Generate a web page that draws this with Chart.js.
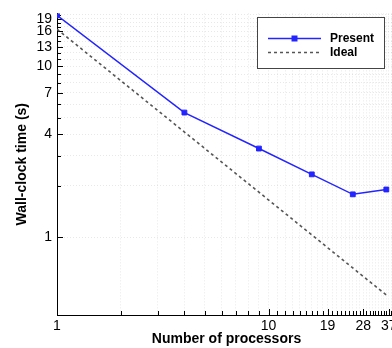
<!DOCTYPE html>
<html><head><meta charset="utf-8">
<script src="https://cdn.jsdelivr.net/npm/chart.js@4/dist/chart.umd.min.js"></script>
<style>
html,body{margin:0;padding:0;overflow:hidden;background:#fff;width:392px;height:348px}
#wrap{width:420px;height:348px;position:relative}
</style>
</head><body><div id="wrap"><canvas id="c" width="420" height="348"></canvas></div>
<script>
const processors = [1, 4, 9, 16, 25, 36];
const presentTime = [19.9, 5.36, 3.30, 2.33, 1.78, 1.90];
const idealProcessors = [1, 36];
const idealTime = [16.5, 0.458];
const xTickValues = [1,2,3,4,5,6,7,8,9,10,11,12,13,14,15,16,17,18,19,20,21,22,23,24,25,26,27,28,29,30,31,32,33,34,35,36,37,38,39,40];
const xTickLabels = [1, 10, 19, 28, 37];
const yTickValues = [1,2,3,4,5,6,7,8,9,10,11,12,13,14,15,16,17,18,19,20];
const yTickLabels = [1, 4, 7, 10, 13, 16, 19];

Chart.defaults.font.family = '"Liberation Sans", Arial, Helvetica, sans-serif';
Chart.defaults.color = '#000';

const BLUE = '#2424ff';
const GRAY = '#555555';

const inwardTicks = {
  id: 'inwardTicks',
  beforeDatasetsDraw(chart) {
    const ctx = chart.ctx;
    const {left, bottom} = chart.chartArea;
    const xs = chart.scales.x, ys = chart.scales.y;
    ctx.save();
    ctx.strokeStyle = '#000';
    ctx.lineWidth = 1;
    ctx.beginPath();
    xs.ticks.forEach(t => {
      const p = Math.round(xs.getPixelForValue(t.value)) + 0.5;
      const len = xTickLabels.includes(t.value) ? 6 : 4;
      ctx.moveTo(p, bottom); ctx.lineTo(p, bottom - len);
    });
    ys.ticks.forEach(t => {
      const p = Math.round(ys.getPixelForValue(t.value)) + 0.5;
      const len = yTickLabels.includes(t.value) ? 6 : 4;
      ctx.moveTo(left, p); ctx.lineTo(left + len, p);
    });
    ctx.stroke();
    ctx.restore();
  }
};

const boxLegend = {
  id: 'boxLegend',
  afterDraw(chart) {
    const ctx = chart.ctx;
    const bx = 257.5, by = 17.5, bw = 127, bh = 51;
    ctx.save();
    ctx.fillStyle = '#fff';
    ctx.fillRect(bx, by, bw, bh);
    ctx.strokeStyle = '#444';
    ctx.lineWidth = 1;
    ctx.strokeRect(bx, by, bw, bh);
    const ds = chart.data.datasets;
    const rows = [38, 52];
    ds.forEach((d, i) => {
      const y = rows[i] + 0.5;
      ctx.beginPath();
      ctx.strokeStyle = d.borderColor;
      ctx.lineWidth = d.borderWidth;
      ctx.setLineDash(d.borderDash || []);
      ctx.moveTo(268, y); ctx.lineTo(321, y);
      ctx.stroke();
      ctx.setLineDash([]);
      if (d.pointRadius > 0) {
        ctx.fillStyle = d.borderColor;
        ctx.fillRect(291.5, y - 3, 6, 6);
      }
      ctx.fillStyle = '#000';
      ctx.font = 'bold 12px "Liberation Sans", Arial, sans-serif';
      ctx.textBaseline = 'middle';
      ctx.textAlign = 'left';
      ctx.fillText(d.label, 330, y);
    });
    ctx.restore();
  }
};

new Chart(document.getElementById('c'), {
  type: 'line',
  data: {
    datasets: [
      {
        label: 'Present',
        data: processors.map((p, i) => ({x: p, y: presentTime[i]})),
        borderColor: BLUE,
        backgroundColor: BLUE,
        borderWidth: 1.5,
        pointStyle: 'rect',
        pointRadius: 3.4,
        pointBorderWidth: 1,
        fill: false,
        tension: 0
      },
      {
        label: 'Ideal',
        data: idealProcessors.map((p, i) => ({x: p, y: idealTime[i]})),
        borderColor: GRAY,
        backgroundColor: GRAY,
        borderWidth: 1.6,
        borderDash: [3, 3],
        pointRadius: 0,
        fill: false,
        tension: 0
      }
    ]
  },
  options: {
    responsive: false,
    animation: false,
    devicePixelRatio: 1,
    layout: {padding: {top: 13, right: 24, left: 0, bottom: 0}},
    plugins: {legend: {display: false}, tooltip: {enabled: false}},
    scales: {
      x: {
        type: 'logarithmic',
        min: 1, max: 40,
        afterBuildTicks: s => { s.ticks = xTickValues.map(v => ({value: v})); },
        afterFit: s => { s.height = 33; },
        ticks: {
          autoSkip: false, maxRotation: 0, minRotation: 0, padding: 3,
          font: {size: 14},
          callback: v => xTickLabels.includes(v) ? String(v) : ''
        },
        grid: {color: 'rgba(0,0,0,0.09)', drawTicks: false, lineWidth: 1},
        border: {display: true, color: '#000', width: 1, dash: [1, 2]},
        title: {display: true, text: 'Number of processors', font: {size: 14, weight: 'bold'}, padding: {top: 0, bottom: 0}}
      },
      y: {
        type: 'logarithmic',
        min: 0.35, max: 20.4,
        afterBuildTicks: s => { s.ticks = yTickValues.map(v => ({value: v})); },
        afterFit: s => { s.width = 57; },
        ticks: {
          autoSkip: false, padding: 5,
          font: {size: 14},
          callback: v => yTickLabels.includes(v) ? String(v) : ''
        },
        grid: {color: 'rgba(0,0,0,0.09)', drawTicks: false, lineWidth: 1},
        border: {display: true, color: '#000', width: 1, dash: [1, 2]},
        title: {display: true, text: 'Wall-clock time (s)', font: {size: 14, weight: 'bold'}, padding: {top: 14, bottom: 0}}
      }
    }
  },
  plugins: [inwardTicks, boxLegend]
});
</script>
</body></html>
